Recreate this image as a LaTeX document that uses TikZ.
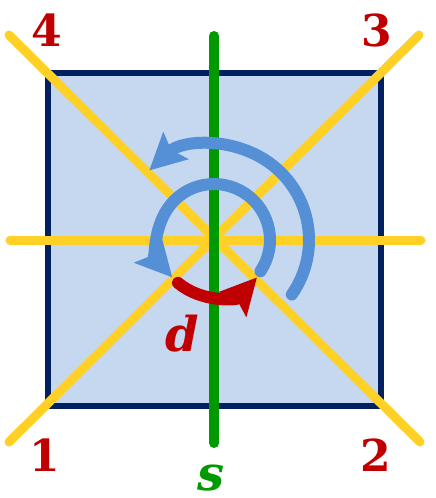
\documentclass[tikz,border=0pt]{standalone}
\usepackage{fontspec}
\newfontfamily\labelfont{DejaVu Serif}
\usetikzlibrary{arrows.meta,calc}
\definecolor{sqfill}{HTML}{C6D8F0}
\definecolor{sqedge}{HTML}{002060}
\definecolor{axisyellow}{HTML}{FFD126}
\definecolor{axisgreen}{HTML}{009A00}
\definecolor{rotblue}{HTML}{5590D6}
\definecolor{labelred}{HTML}{C00000}

\begin{document}
\begin{tikzpicture}[
    x=1pt, y=1pt,
    axis/.style={line width=9pt, line cap=round, draw=axisyellow},
    rot/.style={line width=12pt, line cap=round, draw=#1,
        -{Stealth[length=36pt, width=36pt, inset=6pt]}},
    num/.style={font=\labelfont\bfseries\fontsize{44}{44}\selectfont, text=labelred, inner sep=0pt},
]
\useasboundingbox (-214,-258) rectangle (222,240);
\coordinate (c) at (0,0);

% square
\draw[line width=6pt, draw=sqedge, fill=sqfill] (-166,-166) rectangle (167,167);

% symmetry axes
\draw[axis] (-205,205) -- (206,-202);
\draw[axis] (205,205) -- (-205,-202);
\draw[axis] (-204,0) -- (207,0);
\draw[line width=10pt, line cap=round, draw=axisgreen] (0,204) -- (0,-203);

% rotations
\draw[rot=rotblue] ($(c)+(-35:95)$) arc[start angle=-35, end angle=133, radius=95];
\draw[rot=rotblue] ($(c)+(-34:56)$) arc[start angle=-34, end angle=222, radius=56];
\draw[rot=labelred] ($(c)+(230:56)$) arc[start angle=230, end angle=318, radius=57];

% labels
\node[num] (n4) at (-167,210) {4};
\node[num] (n3) at (163,210) {3};
\node[num] (n1) at (-169,-215) {1};
\node[num] (n2) at (162,-215) {2};
\node[num, font=\labelfont\bfseries\itshape\fontsize{48}{48}\selectfont] (d) at (-32,-94) {d};
\node[num, text=axisgreen, font=\labelfont\bfseries\itshape\fontsize{48}{48}\selectfont] (s) at (-3,-238) {s};
\end{tikzpicture}
\end{document}
